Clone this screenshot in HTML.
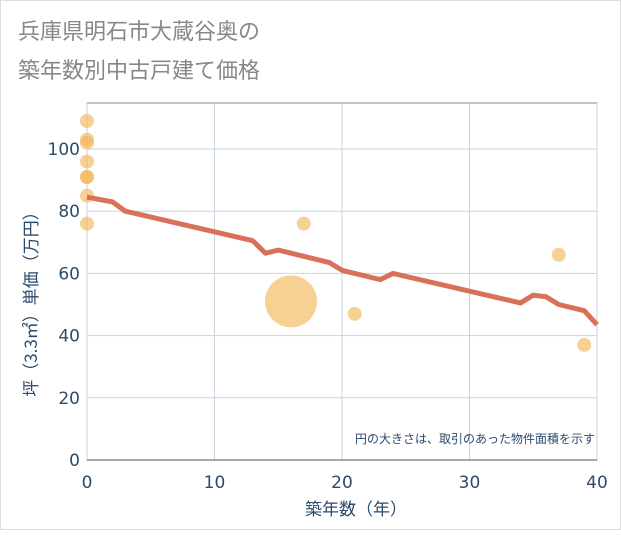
<!DOCTYPE html>
<html><head><meta charset="utf-8"><style>
body{margin:0;background:#fff;}
svg text{font-family:"DejaVu Sans","Noto Sans CJK JP",sans-serif;}
</style></head><body>
<svg id="c" width="621" height="530" xmlns="http://www.w3.org/2000/svg">
<rect x="0.5" y="0.5" width="620" height="529" fill="#fff" stroke="#ddd"/>
<text x="18" y="39" font-size="22" fill="#888" style="font-family:'Noto Sans CJK JP',sans-serif">兵庫県明石市大蔵谷奥の</text>
<text x="18" y="78" font-size="22" fill="#888" style="font-family:'Noto Sans CJK JP',sans-serif">築年数別中古戸建て価格</text>
<g id="grid"></g>
<g id="axes"></g>
<g id="marks"></g>
<text x="595" y="443" font-size="12" fill="#2c4a6b" text-anchor="end" style="font-family:'Noto Sans CJK JP',sans-serif">円の大きさは、取引のあった物件面積を示す</text>
<text x="356" y="515" font-size="17" fill="#2c4a6b" text-anchor="middle" style="font-family:'Noto Sans CJK JP',sans-serif">築年数（年）</text>
<text transform="translate(37,300) rotate(-90)" font-size="17" fill="#2c4a6b" text-anchor="middle" style="font-family:'Noto Sans CJK JP',sans-serif">坪（3.3㎡）単価（万円）</text>
</svg>
<script>
const xTicks=[0,10,20,30,40];
const yTicks=[0,20,40,60,80,100];
const lineYears=[0,2,3,13,14,15,19,20,23,24,34,35,36,37,39,40];
const linePrices=[84.5,83,80,70.5,66.5,67.5,63.5,61,58,60,50.5,53,52.5,50,48,43.5];
const ptYears=[0,0,0,0,0,0,0,0,17,16,21,37,39];
const ptPrices=[109,103,102,96,91,91,85,76,76,51,47,66,37];
const ptSizes=[7,7,7,7,7,7,7,7,7,26,7,7,7];
const L=87,R=597,T=103,B=460;
const xs=v=>L+(v-0)/40*(R-L);
const ys=v=>B-v*3.11;
const NS="http://www.w3.org/2000/svg";
const g=document.getElementById('grid'),ax=document.getElementById('axes'),mk=document.getElementById('marks');
function el(t,a,p){const e=document.createElementNS(NS,t);for(const k in a)e.setAttribute(k,a[k]);p.appendChild(e);return e;}
const bg=el('rect',{x:L,y:T,width:R-L,height:B-T,fill:'#fff',stroke:'#888','stroke-width':1},g);


xTicks.forEach(t=>{
 const l=el('line',{x1:xs(t),x2:xs(t),y1:T,y2:B,stroke:'#c8d3e0'},g);
 
 
 const tx=el('text',{x:xs(t),y:488,'font-size':17,fill:'#2c4a6b','text-anchor':'middle'},ax);
 tx.textContent=t;
 
 
});
yTicks.forEach(t=>{
 const l=el('line',{x1:L,x2:R,y1:ys(t),y2:ys(t),stroke:'#c8d3e0'},g);
 
 
 const tx=el('text',{x:80,y:ys(t)+6,'font-size':17,fill:'#2c4a6b','text-anchor':'end'},ax);
 tx.textContent=t;
 
 
});
const ba=el('line',{x1:L,x2:R,y1:B,y2:B,stroke:'#555'},ax);


ptYears.forEach((yr,i)=>{
 const c=el('circle',{cx:xs(yr),cy:ys(ptPrices[i]),r:ptSizes[i],fill:'#f2b75a','fill-opacity':0.65},mk);
 
 
});
const p=el('polyline',{points:lineYears.map((y,i)=>xs(y)+','+ys(linePrices[i])).join(' '),fill:'none',stroke:'#d9705a','stroke-width':5,'stroke-linejoin':'round'},mk);


</script>
</body></html>
